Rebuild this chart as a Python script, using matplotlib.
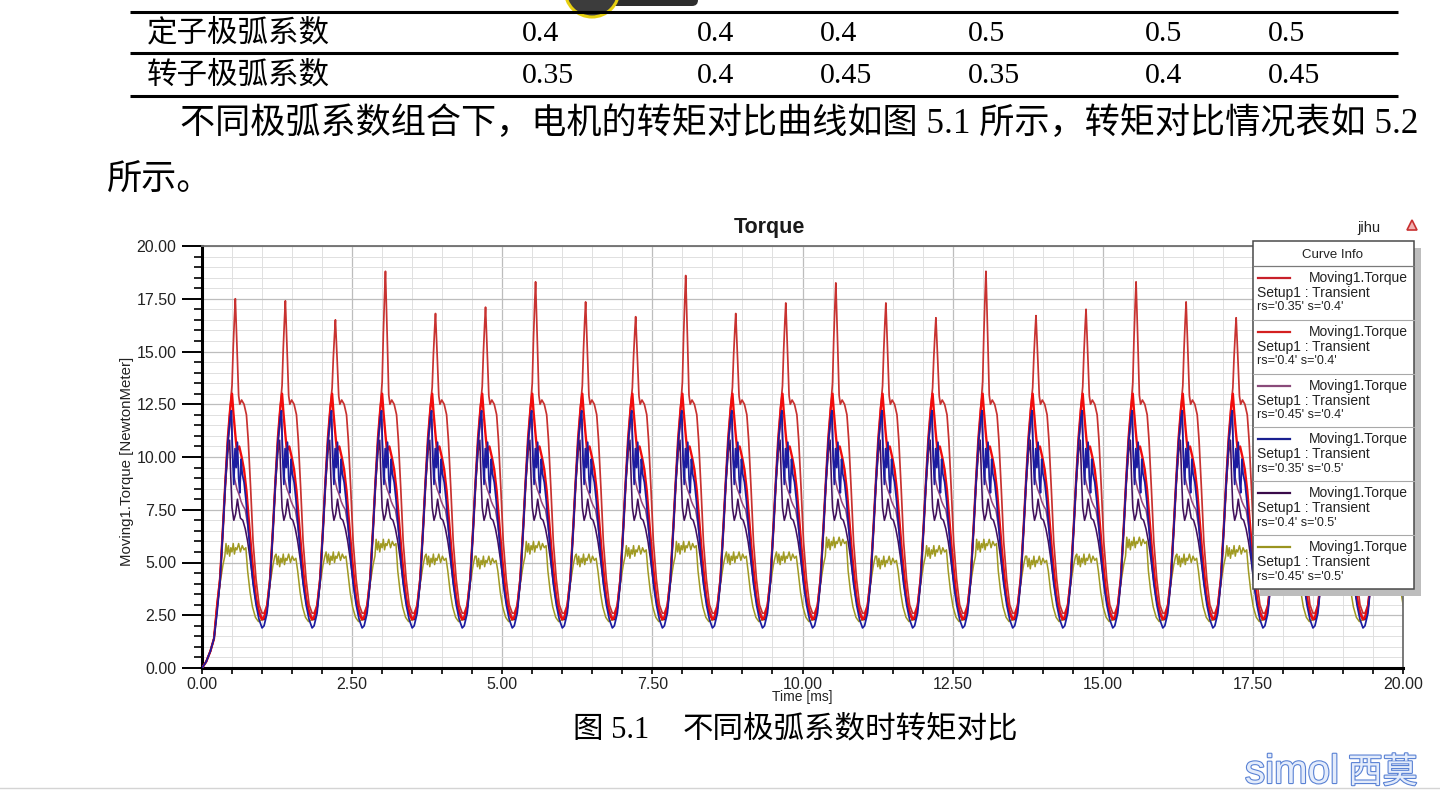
import matplotlib
matplotlib.use('Agg')
import matplotlib.pyplot as plt
from matplotlib.ticker import MultipleLocator, FormatStrFormatter
from matplotlib.patches import Rectangle, Circle, FancyBboxPatch
import matplotlib.patheffects as pe

# table above the chart
row_names = ['定子极弧系数', '转子极弧系数']
stator_arc = ['0.4', '0.4', '0.4', '0.5', '0.5', '0.5']
rotor_arc = ['0.35', '0.4', '0.45', '0.35', '0.4', '0.45']
col_x = [522, 697, 820, 968, 1145, 1268]

para_line1 = '不同极弧系数组合下，电机的转矩对比曲线如图 5.1 所示，转矩对比情况表如 5.2'
para_line2 = '所示。'
caption_num = '图 5.1'
caption_text = '不同极弧系数时转矩对比'

curve_labels = ["rs='0.35' s='0.4'", "rs='0.4' s='0.4'", "rs='0.45' s='0.4'",
                "rs='0.35' s='0.5'", "rs='0.4' s='0.5'", "rs='0.45' s='0.5'"]
curve_colors = ['#c83230', '#f20c0c', '#96487e', '#1c1ca0', '#42105c', '#a09a22']
legend_colors = ['#c8202a', '#d42020', '#8a4a7a', '#1a2090', '#3a0a4a', '#9a9420']

# torque waveform: 24 slot cycles in 20 ms, one cycle per curve
n_cycles = 24
period = 20.0 / n_cycles
first_trough = 0.2
start_t = [0.0, 0.07, 0.14, 0.2]
start_v = [0.0, 0.3, 0.8, 1.4]

tall_p = [0.00, 0.05, 0.10, 0.15, 0.19, 0.23, 0.27, 0.30, 0.32, 0.34, 0.355, 0.37,
          0.39, 0.41, 0.43, 0.46, 0.50, 0.54, 0.57, 0.61, 0.65, 0.70, 0.75, 0.80]
tall_v = [2.6, 3.0, 4.3, 6.8, 8.9, 10.8, 12.4, 13.4, 15.2, 16.6, 17.5, 16.2,
          14.6, 12.9, 12.5, 12.7, 12.5, 12.0, 10.8, 8.5, 6.0, 4.2, 3.0, 2.6]
# spike height of every cycle (rs=0.35, s=0.4)
tall_peaks = [17.5, 17.4, 16.5, 18.8, 16.8, 17.1, 18.3, 17.35, 16.65, 18.6, 16.8, 17.3,
              18.25, 17.3, 16.6, 18.8, 16.7, 17.0, 18.3, 17.35, 16.6, 18.6, 16.8, 17.1]

red2_p = [0.00, 0.05, 0.10, 0.15, 0.19, 0.23, 0.27, 0.30, 0.32, 0.35, 0.38,
          0.42, 0.46, 0.50, 0.54, 0.58, 0.62, 0.66, 0.70, 0.75, 0.80]
red2_v = [2.4, 2.9, 4.2, 6.7, 8.9, 10.9, 12.3, 13.0, 12.2, 11.2, 10.3,
          10.5, 10.0, 9.4, 8.4, 7.0, 5.6, 4.4, 3.3, 2.6, 2.3]

mauve_p = [0.00, 0.05, 0.10, 0.15, 0.19, 0.23, 0.27, 0.29, 0.31, 0.34, 0.38,
           0.42, 0.45, 0.48, 0.52, 0.56, 0.60, 0.64, 0.69, 0.74, 0.80]
mauve_v = [2.4, 2.9, 4.2, 6.7, 8.9, 10.6, 11.6, 11.8, 10.0, 9.0, 8.5,
           8.2, 7.9, 7.7, 7.5, 6.8, 5.8, 4.7, 3.5, 2.8, 2.4]

blue_p = [0.00, 0.05, 0.10, 0.15, 0.19, 0.23, 0.27, 0.29, 0.31, 0.33, 0.35, 0.37, 0.39,
          0.41, 0.43, 0.45, 0.47, 0.50, 0.53, 0.57, 0.61, 0.65, 0.70, 0.75, 0.80]
blue_v = [2.0, 2.6, 4.1, 6.6, 8.8, 10.7, 11.9, 12.2, 10.0, 8.7, 10.4, 9.5, 10.7,
          9.0, 8.3, 9.9, 9.2, 8.8, 8.0, 6.6, 5.2, 4.0, 3.0, 2.3, 1.9]

purple_p = [0.00, 0.05, 0.10, 0.15, 0.19, 0.23, 0.26, 0.28, 0.30, 0.33, 0.36,
            0.39, 0.41, 0.44, 0.48, 0.52, 0.56, 0.60, 0.64, 0.69, 0.74, 0.80]
purple_v = [2.3, 2.8, 4.1, 6.6, 8.7, 10.2, 10.8, 9.0, 7.6, 7.0, 7.3,
            8.0, 7.6, 7.1, 7.0, 6.6, 6.0, 5.2, 4.3, 3.3, 2.6, 2.3]

olive_p = [0.00, 0.05, 0.10, 0.15, 0.18, 0.20, 0.22, 0.24, 0.26, 0.28, 0.30, 0.32, 0.34,
           0.36, 0.38, 0.41, 0.44, 0.47, 0.50, 0.53, 0.56, 0.60, 0.64, 0.69, 0.74, 0.80]
olive_v = [2.3, 2.9, 4.0, 4.9, 5.3, 5.6, 5.1, 5.5, 5.0, 5.4, 5.2, 5.6, 5.1,
           5.4, 5.3, 5.6, 5.2, 5.5, 5.3, 5.4, 4.6, 3.6, 2.9, 2.4, 2.2, 2.3]
# plateau level of every cycle (rs=0.45, s=0.5)
olive_levels = [5.6, 5.1, 5.2, 5.8, 5.1, 5.0, 5.7, 5.1, 5.5, 5.7, 5.2, 5.2,
                5.9, 5.0, 5.5, 5.8, 5.0, 5.1, 5.9, 5.1, 5.5, 5.7, 5.1, 5.2]


def build(phase, cycles):
    t, v = list(start_t), list(start_v)
    for k, vals in enumerate(cycles):
        for p, y in zip(phase, vals):
            tt = first_trough + k * period + p
            if tt > t[-1]:
                t.append(tt)
                v.append(y)
    return t, v


def tall_cycle(peak):
    return [y if y <= 12.8 else 12.8 + (y - 12.8) * (peak - 12.8) / (17.5 - 12.8) for y in tall_v]


def olive_cycle(level):
    return [y + (level - 5.3) if 0.19 < p < 0.54 else y for p, y in zip(olive_p, olive_v)]


series = [
    build(tall_p, [tall_cycle(pk) for pk in tall_peaks]),
    build(red2_p, [red2_v] * n_cycles),
    build(mauve_p, [mauve_v] * n_cycles),
    build(blue_p, [blue_v] * n_cycles),
    build(purple_p, [purple_v] * n_cycles),
    build(olive_p, [olive_cycle(lv) for lv in olive_levels]),
]
widths = [1.25, 1.7, 1.15, 1.25, 1.15, 1.1]
order = [5, 6, 4, 8, 3, 2]

W, H = 1440, 791
fig = plt.figure(figsize=(14.4, 7.91), dpi=100)
fig.patch.set_facecolor('white')
sans = 'Liberation Sans'
doc_font = ['Liberation Serif', 'Noto Sans CJK SC']

ax = fig.add_axes([202 / W, 1 - 668 / H, 1201 / W, 422 / H], zorder=1)
for (t, v), c, lw, z in zip(series, curve_colors, widths, order):
    ax.plot(t, v, color=c, lw=lw, zorder=z)

ax.set_xlim(0, 20)
ax.set_ylim(0, 20)
ax.xaxis.set_major_locator(MultipleLocator(2.5))
ax.xaxis.set_minor_locator(MultipleLocator(0.5))
ax.yaxis.set_major_locator(MultipleLocator(2.5))
ax.yaxis.set_minor_locator(MultipleLocator(0.5))
ax.xaxis.set_major_formatter(FormatStrFormatter('%.2f'))
ax.yaxis.set_major_formatter(FormatStrFormatter('%.2f'))
ax.grid(which='major', color='#bdbdbd', lw=0.9, zorder=0)
ax.grid(which='minor', color='#e0e0e0', lw=0.7, zorder=0)
ax.set_axisbelow(True)
ax.tick_params(axis='y', which='major', length=14.5, width=1.4, pad=4,
               labelsize=11.5, labelcolor='#222222')
ax.tick_params(axis='y', which='minor', length=6, width=1.2)
ax.tick_params(axis='x', which='both', length=4.5, width=1.2, pad=2,
               labelsize=11.5, labelcolor='#222222')
for lab in ax.get_xticklabels() + ax.get_yticklabels():
    lab.set_fontfamily(sans)
for side in ['left', 'bottom']:
    ax.spines[side].set_linewidth(2.2)
    ax.spines[side].set_color('black')
for side in ['top', 'right']:
    ax.spines[side].set_linewidth(1.3)
    ax.spines[side].set_color('#6e6e6e')

# overlay in pixel coordinates for the page and the curve info box
ov = fig.add_axes([0, 0, 1, 1], zorder=10)
ov.set_xlim(0, W)
ov.set_ylim(H, 0)
ov.axis('off')

# page widget at the top
ov.add_patch(FancyBboxPatch((590, -12), 108, 18, boxstyle='round,pad=0,rounding_size=6',
                            facecolor='#2e2e2e', edgecolor='none'))
ov.add_patch(Circle((592, -10), 27, facecolor='#3c3c3c', edgecolor='#e6cf10', lw=2.2))

for y in [12, 53, 96]:
    ov.plot([130, 1398], [y, y], color='black', lw=2.2, solid_capstyle='butt')
for name, vals, y in zip(row_names, [stator_arc, rotor_arc], [34, 76]):
    ov.text(147, y, name, family=doc_font, fontsize=22, va='center', ha='left')
    for x, s in zip(col_x, vals):
        ov.text(x, y, s, family=doc_font, fontsize=21.5, va='center', ha='left')

ov.text(180, 124, para_line1, family=doc_font, fontsize=25.3, va='center', ha='left')
ov.text(107, 180, para_line2, family=doc_font, fontsize=25.3, va='center', ha='left')

ov.text(573, 730, caption_num, family=doc_font, fontsize=22, va='center', ha='left')
ov.text(683, 730, caption_text, family=doc_font, fontsize=22, va='center', ha='left')

# chart texts
ov.text(769, 228, 'Torque', family=sans, fontsize=15.5, fontweight='bold', va='center',
        ha='center', color='#1a1a1a')
ov.text(802, 697, 'Time [ms]', family=sans, fontsize=10, va='center', ha='center', color='#222222')
ov.text(127, 461, 'Moving1.Torque [NewtonMeter]', family=sans, fontsize=10.8, rotation=90,
        va='center', ha='center', color='#222222')
ov.text(1369, 228, 'jihu', family=sans, fontsize=10.5, va='center', ha='center', color='#222222')
ov.plot([1412], [225], marker='^', markersize=7, markerfacecolor='#f0b0b0',
        markeredgecolor='#c83030', markeredgewidth=1.2)

# curve info box
box_x, box_y, box_w, box_h = 1253, 241, 161, 348
ov.add_patch(Rectangle((box_x + 7, box_y + 7), box_w, box_h, facecolor='#bdbdbd', edgecolor='none'))
ov.add_patch(Rectangle((box_x, box_y), box_w, box_h, facecolor='white', edgecolor='#4a4a4a', lw=1.1))
ov.text(1333, 255, 'Curve Info', family=sans, fontsize=9.5, va='center', ha='center', color='#222222')
ov.plot([box_x, box_x + box_w], [266, 266], color='#7a7a7a', lw=0.9)
for i, (lab, c) in enumerate(zip(curve_labels, legend_colors)):
    top = 266 + 53.8 * i
    if i > 0:
        ov.plot([box_x, box_x + box_w], [top, top], color='#a8a8a8', lw=0.8)
    ov.plot([1258, 1290], [top + 12, top + 12], color=c, lw=1.6)
    ov.text(1408, top + 12, 'Moving1.Torque', family=sans, fontsize=10, va='center', ha='right', color='#222222')
    ov.text(1257, top + 27, 'Setup1 : Transient', family=sans, fontsize=10, va='center', ha='left', color='#222222')
    ov.text(1257, top + 41.5, lab, family=sans, fontsize=9, va='center', ha='left', color='#222222')

# watermark and page edge
stroke = [pe.withStroke(linewidth=1.6, foreground='#5a82d4')]
ov.text(1245, 772, 'simol', family=sans, fontsize=29, va='center', ha='left',
        color='#e4ecfb', path_effects=stroke)
ov.text(1348, 773, '西莫', family=['Noto Sans CJK SC'], fontsize=25, va='center', ha='left',
        color='#e4ecfb', path_effects=stroke)
ov.plot([0, W], [788, 788], color='#d4d4d4', lw=1)

fig.savefig('out.png', dpi=100)
